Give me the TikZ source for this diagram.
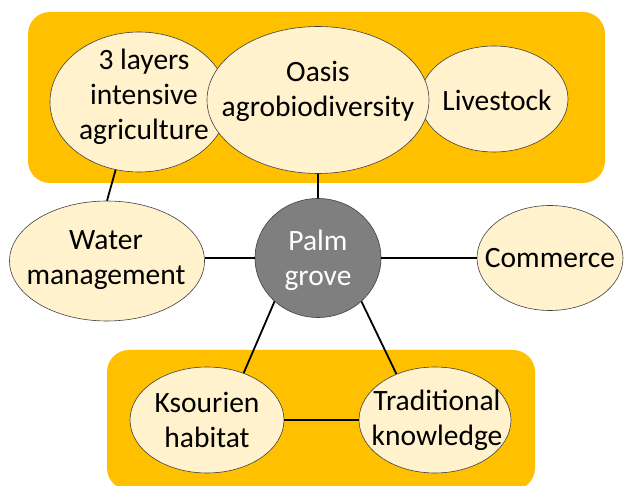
\documentclass[tikz,border=0pt]{standalone}
\usepackage{fontspec}
\setmainfont{Carlito}
\usetikzlibrary{shapes.geometric}
\definecolor{gold}{HTML}{FFC000}
\definecolor{cream}{HTML}{FFF2CC}
\definecolor{palmgray}{HTML}{7F7F7F}
\definecolor{edge}{HTML}{404040}
\tikzset{
  panel/.style={fill=gold, draw=none, rounded corners=22pt},
  bubble/.style={ellipse, fill=cream, draw=edge, line width=0.6pt, inner sep=0pt},
  label/.style={align=center, inner sep=0pt, font=\fontsize{29.5}{35}\selectfont},
  link/.style={line width=1.8pt, black}
}
\begin{document}
\begin{tikzpicture}[x=1pt, y=-1pt]
\useasboundingbox (0,0) rectangle (624,486);
% panels
\path[panel] (28,12) rectangle (605,183);
\path[panel] (107,350) rectangle (535,490);
% top ellipses
\node[bubble, minimum width=178pt, minimum height=140pt] (l3) at (139,102) {};
\node[bubble, minimum width=148pt, minimum height=106pt] (ls) at (494,99) {};
\node[bubble, minimum width=222pt, minimum height=147pt] (oa) at (318,100) {};
\node[label] (l3t) at (144,97) {3 layers\\intensive\\agriculture};
\node[label] (oat) at (318,91) {Oasis\\agrobiodiversity};
\node[label] (lst) at (497,100) {Livestock};
% middle row
\node[bubble, minimum width=195pt, minimum height=120pt] (wm) at (107,261) {};
\node[bubble, fill=palmgray, minimum width=126pt, minimum height=119pt] (pg) at (318,258) {};
\node[bubble, minimum width=146pt, minimum height=105pt] (cm) at (550,258) {};
\node[label] (wmt) at (106,260) {Water\\management};
\node[label, text=white] (pgt) at (318,260) {Palm\\grove};
\node[label] (cmt) at (550,258) {Commerce};
% bottom row
\node[bubble, minimum width=154pt, minimum height=106pt] (ks) at (207,420) {};
\node[bubble, minimum width=152pt, minimum height=106pt] (tk) at (435,420) {};
\node[label] (kst) at (207,420) {Ksourien\\habitat};
\node[label] (tkt) at (437,420) {Traditional\\knowledge};
% connectors
\draw[link] (l3.251) -- (wm.90);
\draw[link] (oa.south) -- (pg.north);
\draw[link] (wm.east |- pg.west) -- (pg.west);
\draw[link] (pg.east) -- (cm.west);
\draw[link] (pg.225) -- (ks.52);
\draw[link] (pg.-45) -- (tk.130);
\draw[link] (ks.east) -- (tk.west);
\end{tikzpicture}
\end{document}
